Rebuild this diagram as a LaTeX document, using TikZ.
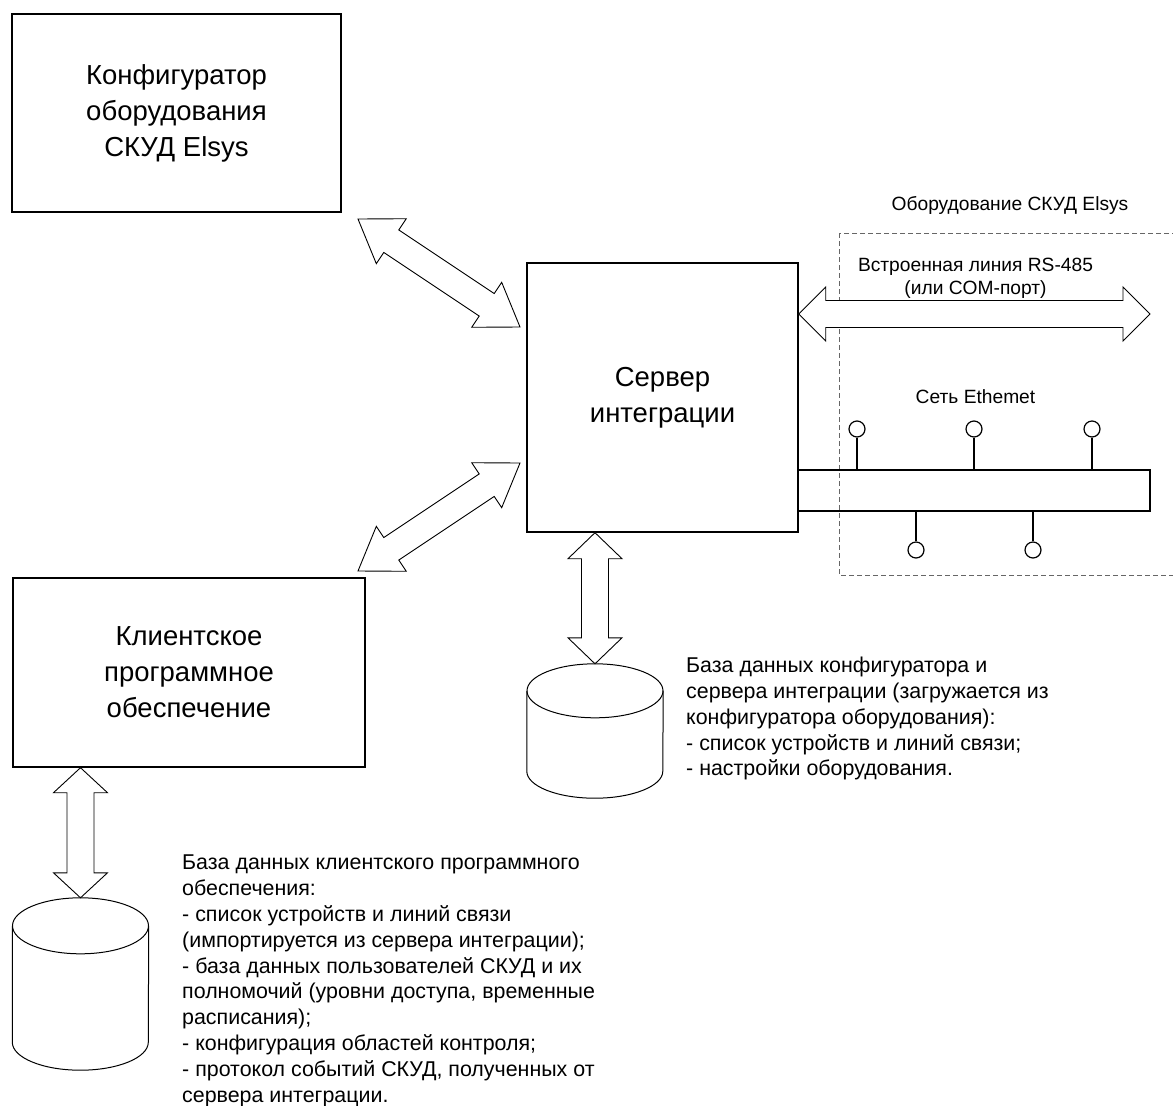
\documentclass[tikz,border=0pt]{standalone}
\usepackage{fontspec}
\setmainfont{Liberation Sans}
\usetikzlibrary{calc, positioning}

\newcommand{\bigfont}{\fontsize{27.5}{36}\selectfont}
\newcommand{\notefont}{\fontsize{21.4}{25.8}\selectfont}
\newcommand{\smallfont}{\fontsize{19.2}{23}\selectfont}

% wide hollow double arrow between two points: #1 head length, #2 and #3 tips
\newcommand{\fatarrow}[3]{%
  \draw[fat] (#2)
    -- ($($(#2)!#1!(#3)$)!27pt!90:(#3)$)
    -- ($($(#2)!#1!(#3)$)!13.5pt!90:(#3)$)
    -- ($($(#3)!#1!(#2)$)!13.5pt!-90:(#2)$)
    -- ($($(#3)!#1!(#2)$)!27pt!-90:(#2)$)
    -- (#3)
    -- ($($(#3)!#1!(#2)$)!27pt!90:(#2)$)
    -- ($($(#3)!#1!(#2)$)!13.5pt!90:(#2)$)
    -- ($($(#2)!#1!(#3)$)!13.5pt!-90:(#3)$)
    -- ($($(#2)!#1!(#3)$)!27pt!-90:(#3)$)
    -- cycle;}

% database drum drawn on an empty node
\newcommand{\drum}[2]{%
  \draw[thin] ($(#1.north west)+(0,#2)$) -- ($(#1.south west)+(0,-#2)$)
    arc[start angle=180, end angle=360, x radius=68pt, y radius=#2 pt]
    -- ($(#1.north east)+(0,#2)$);
  \draw[thin] ($(#1.north)+(0,#2)$) ellipse[x radius=68pt, y radius=#2 pt];}

\begin{document}
\begin{tikzpicture}[
      x=1pt, y=-1pt,
      block/.style={rectangle, draw, line width=1.4pt, align=center, font=\bigfont},
      note/.style={align=left, anchor=north west, inner sep=0pt, font=\notefont},
      hint/.style={align=center, inner sep=0pt, font=\smallfont},
      fat/.style={draw, fill=white, line width=0.9pt, line join=miter},
      dbbox/.style={rectangle, minimum width=136pt, inner sep=0pt},
      tap/.style={circle, draw, line width=1.2pt, minimum size=16pt, inner sep=0pt},
      wire/.style={draw, line width=1.4pt},
      thin/.style={line width=1pt}
    ]
    \useasboundingbox (0,0) rectangle (1173,1106);

    % Equipment area
    \draw[dash pattern=on 5pt off 3pt, gray!80!black, line width=0.9pt] (839,233) rectangle (1190,575);
    \node[hint] (equip) at (1010,205) {Оборудование СКУД Elsys};

    % Nodes
    \node[block, minimum width=329pt, minimum height=198pt] (cfg) at (176.5,113) {Конфигуратор\\оборудования\\СКУД Elsys};
    \node[block, minimum width=271pt, minimum height=269pt] (srv) at (662.5,397.5) {Сервер\\интеграции};
    \node[block, minimum width=352pt, minimum height=189pt] (cli) at (189,672.5) {Клиентское\\программное\\обеспечение};
    \node[dbbox, minimum height=134pt] (db1) at (595,731) {};
    \node[dbbox, minimum height=172pt] (db2) at (80.5,984) {};
    \node[note] (dbnote1) at (686,657) {База данных конфигуратора и\\сервера интеграции (загружается из\\конфигуратора оборудования):\\- список устройств и линий связи;\\- настройки оборудования.};
    \node[note] (dbnote2) at (182,855) {База данных клиентского программного\\обеспечения:\\- список устройств и линий связи\\(импортируется из сервера интеграции);\\- база данных пользователей СКУД и их\\полномочий (уровни доступа, временные\\расписания);\\- конфигурация областей контроля;\\- протокол событий СКУД, полученных от\\сервера интеграции.};
    \drum{db1}{27}
    \drum{db2}{28}

    % Ethernet bus
    \node[draw, line width=1.4pt, minimum width=352pt, minimum height=41pt, inner sep=0pt] (bus) at (974,490.5) {};
    \node[hint] (net) at (975.5,397) {Сеть Ethemet};
    \node[tap] (up1) at (857,429) {};
    \node[tap] (up2) at (974,429) {};
    \node[tap] (up3) at (1092,429) {};
    \node[tap] (low1) at (916,550) {};
    \node[tap] (low2) at (1033,550) {};
    \draw[wire] (up1) -- (up1 |- bus.north);
    \draw[wire] (up2) -- (up2 |- bus.north);
    \draw[wire] (up3) -- (up3 |- bus.north);
    \draw[wire] (low1) -- (low1 |- bus.south);
    \draw[wire] (low2) -- (low2 |- bus.south);

    % Connections
    \coordinate (cfgend) at (358,219);
    \coordinate (srvtop) at (520,327);
    \coordinate (srvlow) at (520,463);
    \coordinate (cliend) at (358,571);
    \coordinate (rsend) at (1150,314);
    \fatarrow{40pt}{cfgend}{srvtop}
    \fatarrow{40pt}{srvlow}{cliend}
    \fatarrow{27pt}{srv.east |- rsend}{rsend}
    \fatarrow{26pt}{srv.south -| db1.north}{db1.north}
    \fatarrow{25pt}{cli.south -| db2.north}{db2.north}
    \node[hint] (rs) at (975.5,278) {Встроенная линия RS-485\\(или COM-порт)};
  \end{tikzpicture}
\end{document}
